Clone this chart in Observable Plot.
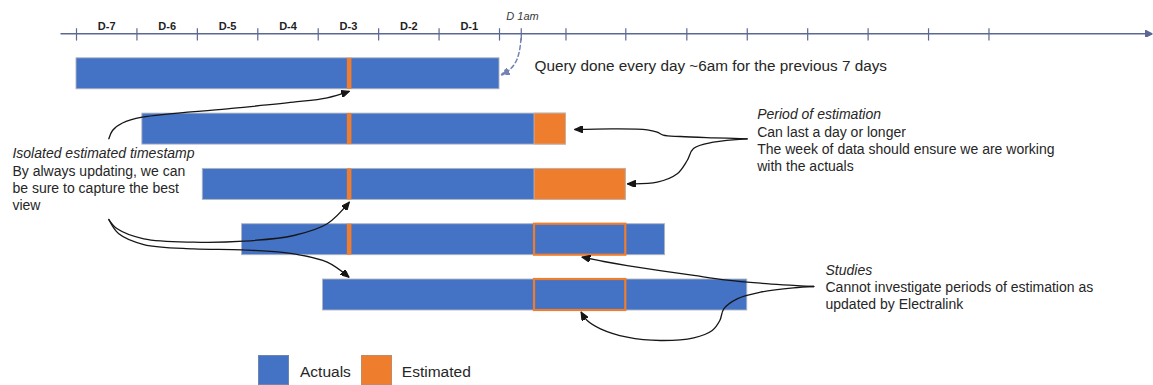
<!DOCTYPE html>
<html>
<head>
<meta charset="utf-8">
<script src="https://cdn.jsdelivr.net/npm/d3@7"></script>
<script src="https://cdn.jsdelivr.net/npm/@observablehq/plot@0.6"></script>
<style>
  html, body { margin: 0; padding: 0; background: #fff; }
  #chart { width: 1153px; }
  .legend {
    display: flex; align-items: center; height: 35px; box-sizing: border-box;
    padding: 5px 0 0 258px;
    font: 15.5px "Liberation Sans", Arial, sans-serif; color: #262626;
  }
  .legend .sw { width: 31px; height: 30px; box-sizing: border-box; border: 1px solid rgba(150,150,150,0.5); }
  .legend .lab { position: relative; top: 1.5px; }
</style>
</head>
<body>
<div id="chart"></div>
<div class="legend" id="legend"></div>
<script>
// ---- Timeline (x in days, D = 0) ----
const dayLabels   = ["D-7", "D-6", "D-5", "D-4", "D-3", "D-2", "D-1"];
const dayStarts   = [-7, -6, -5, -4, -3, -2, -1];
const pastTicks   = [-7, -6, -5, -4, -3, -2, -1, 0];
const futureTicks = [1.1, 2.09, 3.1, 4.1, 5.1, 6.1, 7.1, 8.1];
const runTick     = 0.36;          // "D 1am"
const runTickLabel = "D 1am";

// ---- Daily query windows (one row per run) ----
const runs         = [0, 1, 2, 3, 4];
const runStart     = [-7, -5.91, -4.91, -4.26, -2.92];
const runEnd       = [0, 1.10, 2.09, 2.74, 4.10];
const estStart     = [null, 0.58, 0.58, null, null];
const estEnd       = [null, 1.10, 2.09, null, null];
const revisedStart = [null, null, null, 0.58, 0.58];
const revisedEnd   = [null, null, null, 2.09, 2.09];
const isolatedAt   = -2.48;               // single estimated timestamp
const isolatedRuns = [0, 1, 2, 3];

const seriesNames  = ["Actuals", "Estimated"];
const seriesColors = ["#4472c4", "#ef7d2e"];

const BLUE = seriesColors[0], ORANGE = seriesColors[1];
const HALF = 0.28;          // half bar thickness in row units
const STAMP = 0.038;        // half width of the isolated timestamp

const bars = runs.map(i => ({run: i, start: runStart[i], end: runEnd[i]}));
const estimated = runs.filter(i => estStart[i] != null).map(i => ({run: i, start: estStart[i], end: estEnd[i]}));
const revised = runs.filter(i => revisedStart[i] != null).map(i => ({run: i, start: revisedStart[i], end: revisedEnd[i]}));
const stamps = isolatedRuns.map(i => ({run: i}));

// ---- Callout text ----
const notes = [
  {title: "Period of estimation", body: "Can last a day or longer\nThe week of data should ensure we are working\nwith the actuals",
   x: 4.265, ty: 0.736, by: 1.355},
  {title: "Isolated estimated timestamp", body: "By always updating, we can\nbe sure to capture the best\nview",
   x: -8.06, ty: 1.447, by: 2.056},
  {title: "Studies", body: "Cannot investigate periods of estimation as\nupdated by Electralink",
   x: 5.395, ty: 3.557, by: 4.009}
];
const queryNote = {text: "Query done every day ~6am for the previous 7 days", x: 0.58, y: -0.148};

// ---- Callout arrows (day, row) ----
const arrows = [
  {id: "iso-1", pts: [[-6.465,1.175],[-6.404,1.025],[-6.239,0.890],[-5.913,0.785],[-4.506,0.633],[-3.409,0.514],[-2.851,0.434],[-2.487,0.318]]},
  {id: "iso-3", pts: [[-6.465,2.635],[-6.326,2.803],[-5.886,2.984],[-5.059,3.045],[-4.231,3.027],[-3.404,2.924],[-2.851,2.712],[-2.487,2.322]]},
  {id: "iso-5", pts: [[-6.465,2.635],[-6.300,2.893],[-5.886,3.087],[-5.059,3.165],[-4.258,3.183],[-3.404,3.255],[-2.851,3.407],[-2.494,3.675]]},
  {id: "per-2", pts: [[4.099,1.175],[3.546,1.157],[2.995,1.134],[2.709,1.110],[2.610,1.056],[2.444,1.013],[1.891,0.995],[1.246,1.007]]},
  {id: "per-3", pts: [[4.099,1.175],[3.541,1.237],[3.210,1.351],[3.106,1.568],[2.941,1.808],[2.610,1.960],[2.120,1.989]]},
  {id: "stu-4", pts: [[5.201,3.846],[4.319,3.787],[3.726,3.726],[3.215,3.647],[2.113,3.467],[1.726,3.394],[1.369,3.316]]},
  {id: "stu-5", pts: [[5.201,3.846],[4.865,3.870],[4.319,3.949],[3.933,4.069],[3.712,4.250],[3.646,4.461],[3.520,4.642],[3.215,4.774],[2.664,4.823],[2.113,4.763],[1.671,4.611],[1.451,4.461],[1.352,4.311]]}
];
const runArrow = [[0.356,-0.638],[0.331,-0.421],[0.281,-0.241],[0.182,-0.087],[0.035,0.016]];
const arrowPts = arrows.flatMap(a => a.pts.map(([x, y]) => ({id: a.id, x, y})));

// Filled triangular arrowhead
function head(len, wid) {
  return (color) => {
    const m = d3.create("svg:marker")
      .attr("viewBox", `${-len} ${-wid / 2} ${len + 1} ${wid}`)
      .attr("markerWidth", len + 1).attr("markerHeight", wid)
      .attr("markerUnits", "userSpaceOnUse")
      .attr("refX", 0).attr("refY", 0)
      .attr("orient", "auto");
    m.append("path").attr("d", `M${-len},${-wid / 2}L0,0L${-len},${wid / 2}Z`).attr("fill", color);
    return m.node();
  };
}

const AXIS = "#5c6894";
const AXIS_Y = -0.723;
const TEXT = "#262626";

const chart = Plot.plot({
  width: 1153,
  height: 350,
  margin: 0,
  x: {domain: [-7, 0], range: [76, 499], axis: null},
  y: {domain: [0, 4], range: [73.3, 294.5], axis: null},
  style: {fontFamily: "'Liberation Sans', Arial, sans-serif", background: "#fff", overflow: "visible"},
  marks: [
    // time axis
    Plot.link([0], {x1: -7.265, x2: 10.8, y1: AXIS_Y, y2: AXIS_Y, stroke: AXIS, strokeWidth: 1.4, markerEnd: head(7, 7)}),
    Plot.ruleX(pastTicks.concat([runTick], futureTicks), {y1: -0.814, y2: -0.592, stroke: AXIS, strokeWidth: 1.2}),
    Plot.text(dayLabels, {x: (d, i) => dayStarts[i] + 0.5, y: -0.85, text: d => d, fontSize: 11, fontWeight: "bold", fill: "#1f1f1f"}),
    Plot.text([runTickLabel], {x: runTick + 0.02, y: -1.036, text: d => d, fontSize: 11, fontStyle: "italic", fill: "#3a3a3a"}),

    // query windows
    Plot.rect(bars, {x1: "start", x2: "end", y1: d => d.run - HALF, y2: d => d.run + HALF, fill: BLUE, stroke: "#aeb3bf", strokeWidth: 0.9}),
    Plot.rect(estimated, {x1: "start", x2: "end", y1: d => d.run - HALF, y2: d => d.run + HALF, fill: ORANGE, stroke: "#c8b2a4", strokeWidth: 0.9}),
    Plot.rect(stamps, {x1: isolatedAt - STAMP, x2: isolatedAt + STAMP, y1: d => d.run - HALF, y2: d => d.run + HALF, fill: ORANGE}),
    Plot.rect(revised, {x1: "start", x2: "end", y1: d => d.run - HALF, y2: d => d.run + HALF, fill: "none", stroke: ORANGE, strokeWidth: 2.2}),

    // callouts
    Plot.line(arrowPts, {x: "x", y: "y", z: "id", curve: "catmull-rom", stroke: "#161616", strokeWidth: 1.3, markerEnd: head(8, 7)}),
    Plot.line(runArrow, {x: d => d[0], y: d => d[1], curve: "catmull-rom", stroke: "#7482b4", strokeWidth: 1.5, strokeDasharray: "4,3", markerEnd: head(8, 7)}),

    Plot.text([queryNote], {x: "x", y: "y", text: "text", textAnchor: "start", fontSize: 15.3, fill: TEXT}),
    Plot.text(notes, {x: "x", y: "ty", text: "title", textAnchor: "start", fontSize: 14, fontStyle: "italic", fill: TEXT}),
    Plot.text(notes, {x: "x", y: "by", text: "body", textAnchor: "start", fontSize: 14, lineHeight: 1.22, fill: TEXT})
  ]
});
document.getElementById("chart").append(chart);

// legend
const legend = document.getElementById("legend");
const gaps = [[11, 10.5], [9.5, 0]];
seriesNames.forEach((name, i) => {
  const sw = document.createElement("span");
  sw.className = "sw";
  sw.style.background = seriesColors[i];
  sw.style.marginRight = gaps[i][0] + "px";
  const lab = document.createElement("span");
  lab.className = "lab";
  lab.textContent = name;
  lab.style.marginRight = gaps[i][1] + "px";
  legend.append(sw, lab);
});
</script>
</body>
</html>
